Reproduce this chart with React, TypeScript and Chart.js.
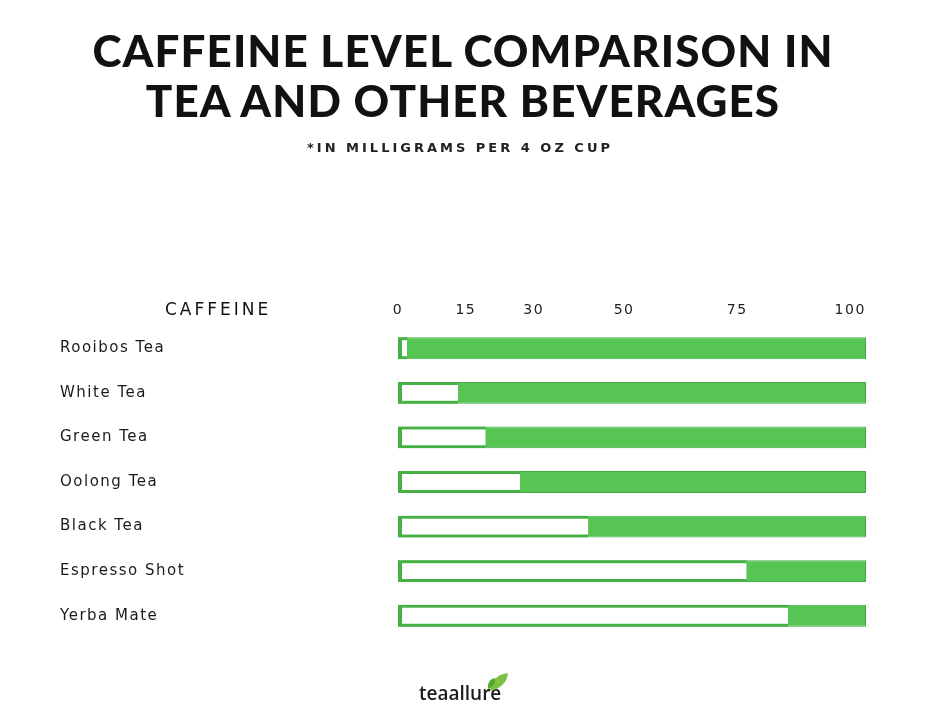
import React, { useEffect, useRef } from 'react';
import { Chart, registerables } from 'chart.js';

Chart.register(...registerables);

const beverages = ['Rooibos Tea', 'White Tea', 'Green Tea', 'Oolong Tea', 'Black Tea', 'Espresso Shot', 'Yerba Mate'];
const caffeineMg = [2, 13.3, 19.4, 27, 42.1, 77.1, 86.3];
const trackValues = [103.5, 103.5, 103.5, 103.5, 103.5, 103.5, 103.5];
const axisTicks = [0, 15, 30, 50, 75, 100];
const scaleEnd = 103.5;

const titleLines = ['CAFFEINE LEVEL COMPARISON IN', 'TEA AND OTHER BEVERAGES'];
const subtitleText = '*IN MILLIGRAMS PER 4 OZ CUP';
const headerText = 'CAFFEINE';

const spacingPlugin = {
  id: 'letterSpacing',
  beforeLayout(chart: any) {
    (chart.ctx as any).letterSpacing = '1.5px';
  },
  beforeDraw(chart: any) {
    (chart.ctx as any).letterSpacing = '1.5px';
  },
};

export default function App() {
  const canvasRef = useRef<HTMLCanvasElement | null>(null);

  useEffect(() => {
    if (!canvasRef.current) return;
    const chart = new Chart(canvasRef.current, {
      type: 'bar',
      data: {
        labels: beverages,
        datasets: [
          {
            label: 'Caffeine (mg)',
            data: caffeineMg,
            backgroundColor: '#ffffff',
            borderColor: '#46b044',
            borderWidth: { left: 4, top: 3, bottom: 3, right: 0 } as any,
            borderSkipped: false,
            grouped: false,
            barPercentage: 0.49,
            categoryPercentage: 1,
            order: 0,
          },
          {
            label: 'Scale',
            data: trackValues,
            backgroundColor: '#56c554',
            borderColor: '#45ab44',
            borderWidth: 1,
            borderSkipped: false,
            grouped: false,
            barPercentage: 0.49,
            categoryPercentage: 1,
            order: 1,
          },
        ],
      },
      options: {
        indexAxis: 'y',
        animation: false,
        responsive: true,
        maintainAspectRatio: false,
        layout: { padding: { top: 302, left: 60, right: 60, bottom: 86 } },
        plugins: {
          legend: { display: false },
          tooltip: { enabled: false },
          title: { display: false },
        },
        scales: {
          x: {
            type: 'linear',
            position: 'top',
            min: 0,
            max: scaleEnd,
            grid: { display: false, drawTicks: false },
            border: { display: false },
            afterBuildTicks: (s: any) => {
              s.ticks = axisTicks.map((v) => ({ value: v }));
            },
            afterFit: (s: any) => {
              s.height = 24;
            },
            ticks: {
              color: '#222',
              padding: 7,
              maxRotation: 0,
              font: { family: 'DejaVu Sans', size: 14 },
            },
          },
          y: {
            type: 'category',
            grid: { display: false, drawTicks: false },
            border: { display: false },
            afterFit: (s: any) => {
              s.width = 338;
            },
            ticks: {
              crossAlign: 'far',
              color: '#1a1a1a',
              padding: 0,
              font: { family: 'DejaVu Sans', size: 15 },
            },
          },
        },
      },
      plugins: [spacingPlugin],
    } as any);
    return () => chart.destroy();
  }, []);

  return (
    <div style={{ position: 'fixed', left: 0, top: 0, width: 926, height: 724, background: '#ffffff', overflow: 'hidden' }}>
      <canvas ref={canvasRef} style={{ position: 'absolute', left: 0, top: 0, width: 926, height: 724 }} />
      <div
        style={{
          position: 'absolute',
          left: 0,
          top: 25,
          width: 926,
          textAlign: 'center',
          fontFamily: 'Lato, sans-serif',
          fontWeight: 900,
          fontSize: 44,
          lineHeight: '50px',
          letterSpacing: '1.1px',
          color: '#111',
          pointerEvents: 'none',
        }}
      >
        {titleLines.map((l) => (
          <div key={l}>{l}</div>
        ))}
      </div>
      <div
        style={{
          position: 'absolute',
          left: -3,
          top: 140,
          width: 926,
          textAlign: 'center',
          fontFamily: '"DejaVu Sans", sans-serif',
          fontWeight: 700,
          fontSize: 13,
          letterSpacing: '3px',
          color: '#222',
          pointerEvents: 'none',
        }}
      >
        {subtitleText}
      </div>
      <div
        style={{
          position: 'absolute',
          left: 165,
          top: 299,
          fontFamily: '"DejaVu Sans", sans-serif',
          fontSize: 17,
          letterSpacing: '3px',
          color: '#111',
          pointerEvents: 'none',
        }}
      >
        {headerText}
      </div>
      <div
        style={{
          position: 'absolute',
          left: 419,
          top: 680,
          fontFamily: '"Open Sans", sans-serif',
          fontWeight: 600,
          fontSize: 19,
          color: '#1c1c1c',
          pointerEvents: 'none',
        }}
      >
        teaallure
      </div>
      <svg style={{ position: 'absolute', left: 486, top: 671 }} width={24} height={22} viewBox="0 0 24 22">
        <path d="M4 20 C 4 10, 12 3, 22 2 C 21 12, 14 18, 4 20 Z" fill="#7cc242" />
        <path d="M2 18 C 1 12, 4 8, 9 7 C 10 13, 7 16, 2 18 Z" fill="#5aa832" />
      </svg>
    </div>
  );
}
